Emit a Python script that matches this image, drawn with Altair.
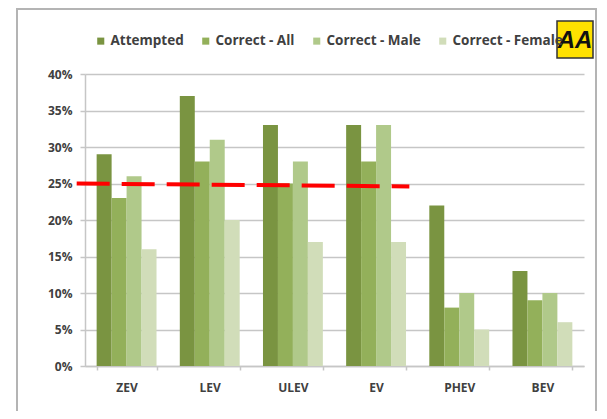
import altair as alt
import pandas as pd

categories = ["ZEV", "LEV", "ULEV", "EV", "PHEV", "BEV"]
series = ["Attempted", "Correct - All", "Correct - Male", "Correct - Female"]
attempted = [0.29, 0.37, 0.33, 0.33, 0.22, 0.13]
correct_all = [0.23, 0.28, 0.25, 0.28, 0.08, 0.09]
correct_male = [0.26, 0.31, 0.28, 0.33, 0.10, 0.10]
correct_female = [0.16, 0.20, 0.17, 0.17, 0.05, 0.06]
colors = ["#7A9441", "#93B05A", "#B0C98A", "#D1DDB9"]
y_ticks = [0.0, 0.05, 0.10, 0.15, 0.20, 0.25, 0.30, 0.35, 0.40]

# red dashed reference line, in category units along x
ref_x = [-0.1, 3.9]
ref_y = [0.25, 0.246]

rows = []
for s, vals in zip(series, [attempted, correct_all, correct_male, correct_female]):
    for c, v in zip(categories, vals):
        rows.append({"category": c, "series": s, "value": v})
df = pd.DataFrame(rows)

FONT = "Open Sans"
TXT = "#404040"
GRID = "#c6c6c6"

bars = alt.Chart(df).mark_bar().encode(
    x=alt.X("category:N", sort=categories, title=None,
            scale=alt.Scale(paddingInner=0.28, paddingOuter=0.14),
            axis=alt.Axis(labelAngle=0, tickBand="extent", grid=False,
                          domainColor=GRID, domainWidth=1.5, tickColor=GRID,
                          tickWidth=1.5, tickSize=4, labelPadding=12,
                          labelFont=FONT, labelFontSize=12, labelFontWeight="bold",
                          labelColor=TXT)),
    xOffset=alt.XOffset("series:N", sort=series, scale=alt.Scale(paddingInner=0, paddingOuter=0)),
    y=alt.Y("value:Q", title=None,
            scale=alt.Scale(domain=[0, 0.4], nice=False),
            axis=alt.Axis(format=".0%", values=y_ticks,
                          labelOverlap=False,
                          gridColor=GRID, gridWidth=1.5, domainColor=GRID,
                          domainWidth=1.5, tickColor=GRID, tickWidth=1.5,
                          tickSize=5, labelPadding=8, labelFont=FONT,
                          labelFontSize=12, labelFontWeight="bold", labelColor=TXT)),
    color=alt.Color("series:N", sort=series,
                    scale=alt.Scale(domain=series, range=colors),
                    legend=alt.Legend(title=None, orient="none", direction="horizontal",
                                      legendX=9, legendY=-40,
                                      symbolType="square", symbolSize=50,
                                      symbolStrokeWidth=0, labelFont=FONT,
                                      labelFontSize=13.5, labelFontWeight="bold",
                                      labelColor=TXT, columnPadding=15, labelOffset=3)),
)

ref_df = pd.DataFrame({"x": [ref_x[0]], "x2": [ref_x[1]], "y": [ref_y[0]], "y2": [ref_y[1]]})
ref = alt.Chart(ref_df).mark_rule(color="#FF0000", strokeWidth=4,
                                  strokeDash=[33, 12], clip=False).encode(
    x=alt.X("x:Q", scale=alt.Scale(domain=[0, 6], nice=False, zero=False), axis=None),
    x2="x2:Q",
    y=alt.Y("y:Q", axis=None),
    y2="y2:Q",
)

frame = alt.Chart(pd.DataFrame({"a": [0]})).mark_rect(
    fill=None, stroke="#b4b4b4", strokeWidth=2, clip=False
).encode(x=alt.value(-68), x2=alt.value(511), y=alt.value(-65), y2=alt.value(360))

logo = alt.Chart(pd.DataFrame({"a": [0]})).mark_rect(
    fill="#FFE100", stroke="#333333", strokeWidth=1.5, clip=False
).encode(x=alt.value(472), x2=alt.value(508), y=alt.value(-53), y2=alt.value(-16))

logo_text = alt.Chart(pd.DataFrame({"t": ["AA"]})).mark_text(
    font="Liberation Sans", fontSize=24, fontWeight="bold", fontStyle="italic",
    color="#111111", align="center", baseline="middle", clip=False
).encode(x=alt.value(490), y=alt.value(-33), text="t:N")

chart = alt.layer(bars, ref, frame, logo, logo_text).resolve_scale(
    x="independent"
).resolve_axis(
    y="independent"
).properties(
    width=499, height=292,
    autosize=alt.AutoSizeParams(type="none"),
    padding={"left": 77, "top": 66, "right": 15, "bottom": 45},
    background="white",
).configure_view(stroke=None)

chart.save("out.html", embed_options={"renderer": "svg", "actions": False})
